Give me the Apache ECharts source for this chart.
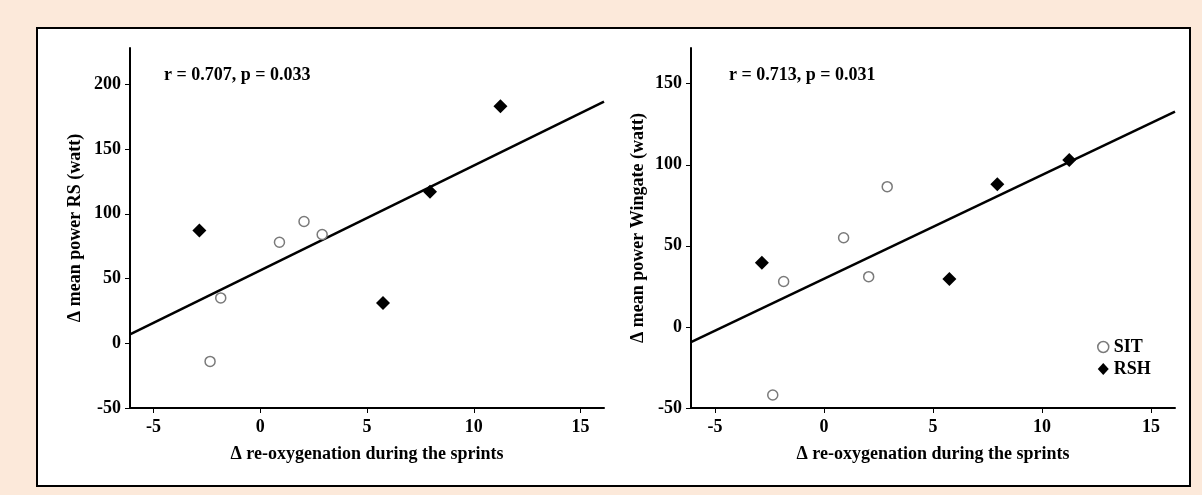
<!DOCTYPE html>
<html>
<head>
<meta charset="utf-8">
<script src="https://cdn.jsdelivr.net/npm/echarts@6/dist/echarts.min.js"></script>
<style>
  html, body { margin: 0; padding: 0; background: #fce9da; }
  #chart { width: 1202px; height: 495px; }
</style>
</head>
<body>
<div id="chart"></div>
<script>
// x values (Δ re-oxygenation) are the same subjects in both panels
var sitX = [-2.35, -1.85, 0.9, 2.05, 2.9];
var rshX = [-2.85, 5.75, 7.95, 11.25];

// left panel: Δ mean power RS (watt)
var sitRS = [-14, 35, 78, 94, 84];
var rshRS = [87, 31, 117, 183];
var fitRS = [[-6.1, 6.9], [16.1, 186.6]];

// right panel: Δ mean power Wingate (watt)
var sitWin = [-42, 28, 55, 31, 86.5];
var rshWin = [39.5, 29.5, 88, 103];
var fitWin = [[-6.1, -9.4], [16.1, 132.7]];

var xTicks = [-5, 0, 5, 10, 15];
var yTicksRS = [-50, 0, 50, 100, 150, 200];
var yTicksWin = [-50, 0, 50, 100, 150];

function pairs(xs, ys) {
    var out = [];
    for (var i = 0; i < xs.length; i++) {
        out.push([xs[i], ys[i]]);
    }
    return out;
}

var serif = '"Liberation Serif", "DejaVu Serif", serif';
var font = { fontFamily: serif, fontWeight: 'bold', fontSize: 18, color: '#000' };

function xAxisOf(idx) {
    return {
        type: 'value',
        gridIndex: idx,
        min: -6.1,
        max: 16.1,
        name: 'Δ re-oxygenation during the sprints',
        nameLocation: 'middle',
        nameGap: 37,
        nameTextStyle: font,
        splitLine: { show: false },
        axisLine: { onZero: false, lineStyle: { color: '#000', width: 2 } },
        axisTick: { length: 5, customValues: xTicks, lineStyle: { color: '#000', width: 1 } },
        axisLabel: Object.assign({ customValues: xTicks, margin: 10 }, font)
    };
}

function yAxisOf(idx, max, ticks, name, gap) {
    return {
        type: 'value',
        gridIndex: idx,
        min: -50,
        max: max,
        name: name,
        nameLocation: 'middle',
        nameGap: gap,
        nameTextStyle: font,
        splitLine: { show: false },
        axisLine: { show: true, onZero: false, lineStyle: { color: '#000', width: 2 } },
        axisTick: { show: true, length: 5, customValues: ticks, lineStyle: { color: '#000', width: 1 } },
        axisLabel: Object.assign({ customValues: ticks, margin: 9 }, font)
    };
}

var sitStyle = { color: '#fff', borderColor: '#7a7a7a', borderWidth: 1.5, opacity: 1 };
var rshStyle = { color: '#000', opacity: 1 };

var myChart = echarts.init(document.getElementById('chart'));

option = {
    backgroundColor: '#fce9da',
    animation: false,
    graphic: [
        {
            type: 'rect',
            z: -1,
            shape: { x: 37, y: 28, width: 1153, height: 458 },
            style: { fill: '#fff', stroke: '#000', lineWidth: 2 }
        },
        {
            type: 'text',
            x: 164, y: 75,
            style: { text: 'r = 0.707, p = 0.033', fontFamily: serif, fontWeight: 'bold', fontSize: 18, fill: '#000', verticalAlign: 'middle' }
        },
        {
            type: 'text',
            x: 729, y: 75,
            style: { text: 'r = 0.713, p = 0.031', fontFamily: serif, fontWeight: 'bold', fontSize: 18, fill: '#000', verticalAlign: 'middle' }
        }
    ],
    legend: {
        orient: 'vertical',
        left: 1097,
        top: 338,
        padding: 0,
        itemWidth: 11,
        itemHeight: 12,
        itemGap: 4,
        textStyle: { fontFamily: serif, fontWeight: 'bold', fontSize: 18, color: '#000' },
        data: [
            { name: 'SIT', icon: 'circle', itemStyle: { borderWidth: 1.5 } },
            { name: 'RSH', icon: 'diamond' }
        ]
    },
    grid: [
        { left: 130, top: 48, width: 474, height: 360 },
        { left: 691, top: 48, width: 484, height: 360 }
    ],
    xAxis: [xAxisOf(0), xAxisOf(1)],
    yAxis: [
        yAxisOf(0, 228, yTicksRS, 'Δ mean power RS (watt)', 46),
        yAxisOf(1, 172, yTicksWin, 'Δ mean power Wingate (watt)', 44)
    ],
    series: [
        {
            type: 'line', xAxisIndex: 0, yAxisIndex: 0, data: fitRS,
            symbol: 'none', silent: true, z: 1,
            lineStyle: { color: '#000', width: 2.5 }
        },
        {
            type: 'line', xAxisIndex: 1, yAxisIndex: 1, data: fitWin,
            symbol: 'none', silent: true, z: 1,
            lineStyle: { color: '#000', width: 2.5 }
        },
        {
            name: 'SIT', type: 'scatter', xAxisIndex: 0, yAxisIndex: 0,
            data: pairs(sitX, sitRS), symbol: 'circle', symbolSize: 10, itemStyle: sitStyle
        },
        {
            name: 'RSH', type: 'scatter', xAxisIndex: 0, yAxisIndex: 0,
            data: pairs(rshX, rshRS), symbol: 'diamond', symbolSize: 14, itemStyle: rshStyle
        },
        {
            name: 'SIT', type: 'scatter', xAxisIndex: 1, yAxisIndex: 1,
            data: pairs(sitX, sitWin), symbol: 'circle', symbolSize: 10, itemStyle: sitStyle
        },
        {
            name: 'RSH', type: 'scatter', xAxisIndex: 1, yAxisIndex: 1,
            data: pairs(rshX, rshWin), symbol: 'diamond', symbolSize: 14, itemStyle: rshStyle
        }
    ]
};

myChart.setOption(option);
</script>
</body>
</html>
